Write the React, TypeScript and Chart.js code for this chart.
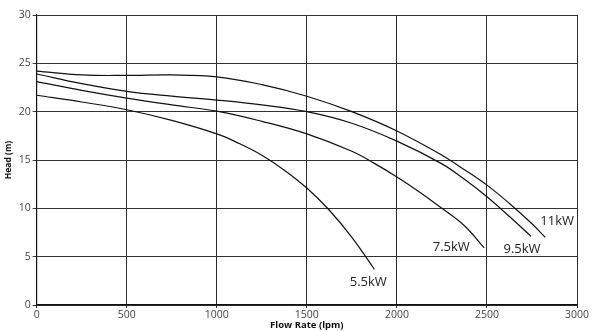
import React, { useEffect, useRef } from "react";
import { Chart, registerables } from "chart.js";

Chart.register(...registerables);

// Pump curves: [flow (lpm), head (m)]
const curve55kW: [number, number][] = [
  [0, 21.7], [250, 21.0], [500, 20.2], [750, 19.1], [1000, 17.7], [1125, 16.7],
  [1250, 15.5], [1375, 13.95], [1500, 12.1], [1625, 9.8], [1750, 7.0], [1875, 3.7],
];
const curve75kW: [number, number][] = [
  [0, 23.1], [250, 22.2], [500, 21.4], [750, 20.7], [1000, 20.05], [1250, 19.0],
  [1500, 17.7], [1750, 15.9], [1875, 14.65], [2000, 13.25], [2125, 11.7], [2250, 10.0],
  [2375, 8.2], [2485, 5.9],
];
const curve95kW: [number, number][] = [
  [0, 23.9], [250, 22.9], [500, 22.1], [750, 21.6], [1000, 21.2], [1250, 20.7],
  [1500, 20.0], [1750, 18.8], [2000, 16.95], [2250, 14.6], [2375, 13.0], [2500, 11.2],
  [2625, 9.15], [2745, 7.1],
];
const curve11kW: [number, number][] = [
  [0, 24.2], [250, 23.8], [500, 23.75], [750, 23.8], [1000, 23.6], [1250, 22.8],
  [1500, 21.6], [1750, 20.0], [2000, 18.0], [2250, 15.5], [2375, 14.0], [2500, 12.4],
  [2625, 10.5], [2750, 8.4], [2824, 7.0],
];

const seriesNames = ["5.5kW", "7.5kW", "9.5kW", "11kW"];
const seriesData = [curve55kW, curve75kW, curve95kW, curve11kW];

// Label anchors (data coordinates)
const labelAnchors: [number, number][] = [
  [1841, 2.4], [2302, 6.0], [2695, 5.8], [2890, 8.7],
];

const xTicks = [0, 500, 1000, 1500, 2000, 2500, 3000];
const yTicks = [0, 5, 10, 15, 20, 25, 30];

const FONT = "'Open Sans', 'Noto Sans', sans-serif";

export default function App() {
  const ref = useRef<HTMLCanvasElement | null>(null);

  useEffect(() => {
    if (!ref.current) return;
    const labelPlugin = {
      id: "curveLabels",
      afterDatasetsDraw(chart: any) {
        const ctx = chart.ctx;
        const xs = chart.scales.x;
        const ys = chart.scales.y;
        ctx.save();
        ctx.fillStyle = "#222";
        ctx.font = `13px ${FONT}`;
        ctx.textAlign = "center";
        ctx.textBaseline = "middle";
        seriesNames.forEach((name, i) => {
          const [lx, ly] = labelAnchors[i];
          ctx.fillText(name, xs.getPixelForValue(lx), ys.getPixelForValue(ly));
        });
        ctx.restore();
      },
    };

    const chart = new Chart(ref.current, {
      type: "scatter",
      data: {
        datasets: seriesData.map((d, i) => ({
          label: seriesNames[i],
          data: d.map(([x, y]) => ({ x, y })),
          showLine: true,
          borderColor: "#111",
          borderWidth: 1.2,
          pointRadius: 0,
          pointHoverRadius: 0,
          fill: false,
          tension: 0.4,
        })),
      },
      options: {
        responsive: false,
        animation: false,
        events: [],
        layout: { padding: { top: 15, right: 20, left: 0, bottom: 0 } },
        plugins: {
          legend: { display: false },
          tooltip: { enabled: false },
        },
        scales: {
          x: {
            type: "linear",
            min: 0,
            max: 3000,
            afterBuildTicks: (s: any) => { s.ticks = xTicks.map((v) => ({ value: v })); },
            afterFit: (s: any) => { s.height = 26; },
            grid: { color: "#2a2a2a", lineWidth: 1, tickLength: 3, drawTicks: true },
            border: { color: "#111", width: 1.2 },
            ticks: {
              color: "#444",
              font: { family: FONT, size: 10.5 },
              padding: 1,
              maxRotation: 0,
              autoSkip: false,
              callback: (v: any) => String(v),
            },
            title: {
              display: true,
              text: "Flow Rate (lpm)",
              color: "#111",
              font: { family: FONT, size: 9.5, weight: "bold" },
              padding: { top: 0, bottom: 0 },
            },
          },
          y: {
            type: "linear",
            min: 0,
            max: 30,
            afterBuildTicks: (s: any) => { s.ticks = yTicks.map((v) => ({ value: v })); },
            afterFit: (s: any) => { s.width = 36.7; },
            grid: { color: "#333", lineWidth: 1, tickLength: 4, drawTicks: true },
            border: { color: "#111", width: 1.2 },
            ticks: {
              color: "#444",
              font: { family: FONT, size: 10.5 },
              padding: 2,
              autoSkip: false,
              callback: (v: any) => String(v),
            },
            title: {
              display: true,
              text: "Head (m)",
              color: "#111",
              font: { family: FONT, size: 8.5, weight: "bold" },
              padding: { top: 3, bottom: 0 },
            },
          },
        },
      },
      plugins: [labelPlugin],
    });
    return () => chart.destroy();
  }, []);

  return (
    <div style={{ position: "absolute", left: 0, top: 0, width: 597, height: 331, background: "#fff" }}>
      <canvas ref={ref} width={597} height={331} style={{ display: "block" }} />
    </div>
  );
}
